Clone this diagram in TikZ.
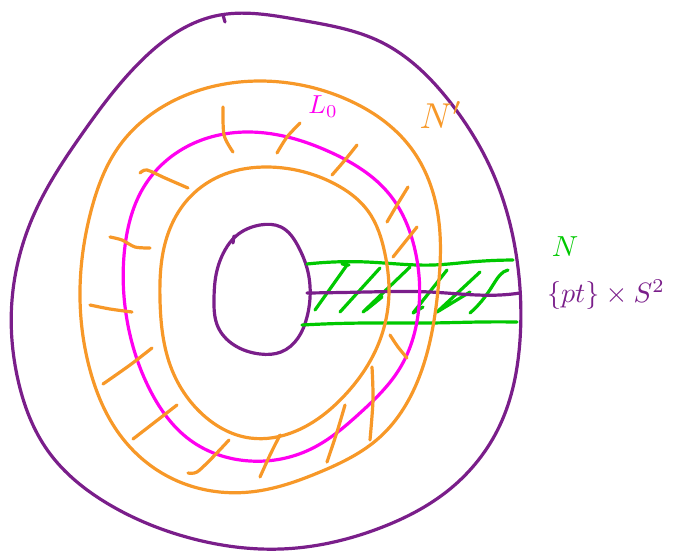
\documentclass[tikz,border=0pt]{standalone}
\usetikzlibrary{calc,hobby}
\definecolor{cpurple}{RGB}{122,30,138}
\definecolor{corange}{RGB}{247,152,40}
\definecolor{cmagenta}{RGB}{255,0,240}
\definecolor{cgreen}{RGB}{0,200,0}
\tikzset{
  pen/.style={line width=3.2pt, line cap=round, line join=round},
  purplepen/.style={pen, draw=cpurple},
  orangepen/.style={pen, draw=corange},
  magentapen/.style={pen, draw=cmagenta},
  greenpen/.style={pen, draw=cgreen},
  lbl/.style={inner sep=0pt}
}
\begin{document}
\begin{tikzpicture}[x=1pt,y=-1pt]
\useasboundingbox (0,0) rectangle (676,550);
% outer purple loop
\draw[purplepen] plot[closed hobby] coordinates {
 (215,16) (300,20) (381,42) (450,102) (495,178) (517,260) (520,340)
 (500,425) (450,489) (380,528) (281,549) (190,538) (110,505) (48,451)
 (18,380) (12,300) (35,212) (82,134) (140,62)};
\draw[purplepen] (223,15) -- (225,22);
% inner purple loop
\draw[purplepen] plot[closed hobby] coordinates {
 (236,236) (260,225) (281,227) (298,246) (307,268) (307,317) (298,338)
 (281,352) (260,354) (234,345) (218,327) (214,299) (216,275) (225,250)};
\draw[purplepen] (234,236) -- (233,243);
% green band
\draw[greenpen] plot[hobby] coordinates {(307,264) (367,262) (433,265) (470,262) (513,260)};
\draw[greenpen] plot[hobby] coordinates {(302,325) (367,323) (430,323) (480,322) (517,322)};
% hatching
\draw[greenpen] (347,265) -- (315,310);
\draw[greenpen] (342,264) -- (349,265);
\draw[greenpen] (380,268) -- (340,312);
\draw[greenpen] (410,267) -- (363,312) -- (382,297) -- (366,310);
\draw[greenpen] (447,270) -- (413,313) -- (423,307);
\draw[greenpen] (480,272) -- (437,312) -- (470,292);
\draw[greenpen] (508,270) .. controls (495,273) and (494,292) .. (470,313);
% {pt} x S^2 line
\draw[purplepen] plot[hobby] coordinates {(307,293) (367,292) (430,292) (500,295) (520,293)};
% magenta L0 circle
\draw[magentapen] plot[closed hobby] coordinates {
 (250,132) (330,152) (390,195) (415,250) (418,315) (400,368) (360,413)
 (311,449) (250,461) (190,440) (150,390) (127,320) (125,246) (145,185) (190,145)};
% orange annulus N'
\draw[orangepen] plot[closed hobby] coordinates {
 (260,81) (346,99) (411,148) (438,215) (438,290) (420,375) (380,437)
 (320,472) (250,492) (173,479) (120,435) (90,370) (80,290) (91,211)
 (120,145) (175,100)};
\draw[orangepen] plot[closed hobby] coordinates {
 (268,167) (335,184) (368,211) (385,254) (389,290) (378,345) (345,395)
 (296,431) (250,438) (200,412) (172,370) (160,300) (166,240) (190,197) (225,174)};
% orange ticks
\draw[orangepen] plot[smooth] coordinates {(223,107) (224,135) (233,152)};
\draw[orangepen] plot[smooth] coordinates {(140,173) (147,170) (165,178) (188,188)};
\draw[orangepen] plot[smooth] coordinates {(110,237) (122,240) (135,247) (150,248)};
\draw[orangepen] plot[smooth] coordinates {(90,305) (110,309) (132,312)};
\draw[orangepen] plot[smooth] coordinates {(103,384) (130,365) (152,348)};
\draw[orangepen] plot[smooth] coordinates {(133,439) (155,422) (177,405)};
\draw[orangepen] plot[smooth] coordinates {(188,473) (197,472) (212,458) (229,440)};
\draw[orangepen] plot[smooth] coordinates {(260,477) (270,455) (280,435)};
\draw[orangepen] plot[smooth] coordinates {(327,462) (337,432) (345,405)};
\draw[orangepen] plot[smooth] coordinates {(372,367) (373,400) (370,440)};
\draw[orangepen] plot[smooth] coordinates {(390,335) (398,347) (407,358)};
\draw[orangepen] plot[smooth] coordinates {(300,123) (287,137) (277,153)};
\draw[orangepen] plot[smooth] coordinates {(357,145) (345,160) (332,175)};
\draw[orangepen] plot[smooth] coordinates {(408,187) (397,205) (387,222)};
\draw[orangepen] plot[smooth] coordinates {(417,227) (405,242) (393,257)};
% labels
\node[lbl, text=cmagenta, scale=2.6] (L0) at (323,107) {$L_0$};
\node[lbl, text=corange, scale=3.6] (Np) at (441,115) {$N'$};
\node[lbl, text=cgreen, scale=2.9] (N) at (565,247) {$N$};
\node[lbl, text=cpurple, scale=2.8] (pt) at (606,295) {$\{pt\}\times S^2$};
\end{tikzpicture}
\end{document}
